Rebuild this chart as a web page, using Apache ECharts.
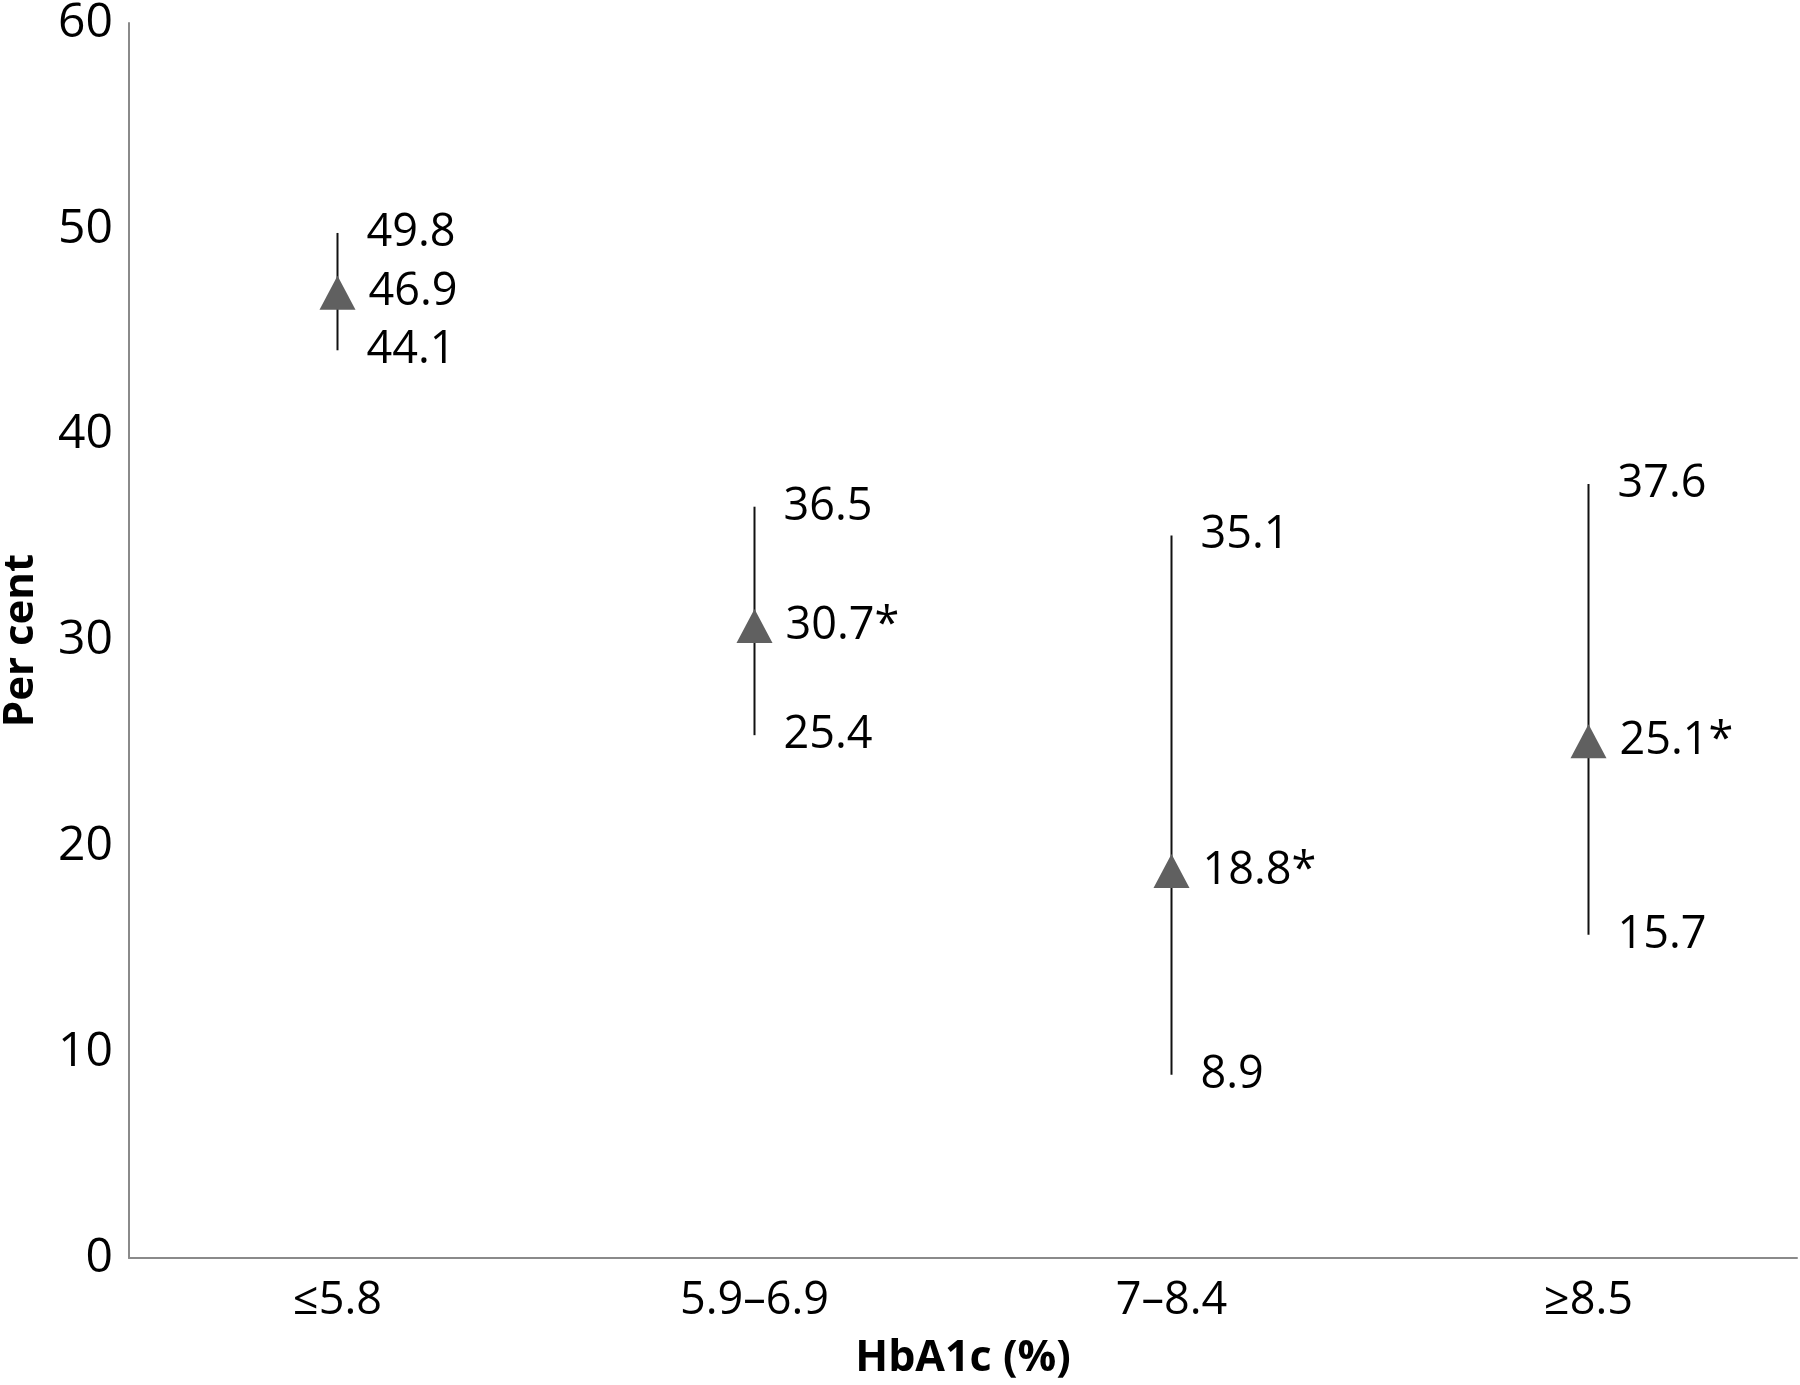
<!DOCTYPE html>
<html>
<head>
<meta charset="utf-8">
<script src="https://cdn.jsdelivr.net/npm/echarts@6/dist/echarts.min.js"></script>
<style>
html,body{margin:0;padding:0;background:#fff;}
#c{width:1800px;height:1385px;}
</style>
</head>
<body>
<div id="c"></div>
<script>
var categories = ['≤5.8', '5.9–6.9', '7–8.4', '≥8.5'];
var pointValues = [46.9, 30.7, 18.8, 25.1];
var upperValues = [49.8, 36.5, 35.1, 37.6];
var lowerValues = [44.1, 25.4, 8.9, 15.7];
var significant = [false, true, true, true];
var yTicks = [0, 10, 20, 30, 40, 50, 60];

var FONT = '"Open Sans", "Noto Sans", sans-serif';
var chart = echarts.init(document.getElementById('c'), null, {renderer: 'canvas'});

var errData = categories.map(function (c, i) { return [i, lowerValues[i], upperValues[i]]; });

var boundLabel = {show: true, position: 'right', distance: 29, color: '#000', opacity: 1,
  fontFamily: FONT, fontSize: 45,
  formatter: function (p) { return p.value.toFixed(1); }};

chart.setOption({
  animation: false,
  backgroundColor: '#ffffff',
  grid: {left: 129, right: 3, top: 23, bottom: 127, containLabel: false, outerBoundsMode: 'none'},
  xAxis: {
    type: 'category',
    data: categories,
    boundaryGap: true,
    axisLine: {show: true, lineStyle: {color: '#8a8a8a', width: 2}},
    axisTick: {show: false},
    splitLine: {show: false},
    axisLabel: {color: '#000', fontFamily: FONT, fontSize: 45, margin: 21},
    name: 'HbA1c (%)',
    nameLocation: 'middle',
    nameGap: 79,
    nameTextStyle: {color: '#000', fontFamily: FONT, fontSize: 43, fontWeight: 'bold'}
  },
  yAxis: {
    type: 'value',
    min: 0, max: 60, interval: 10,
    axisLine: {show: true, lineStyle: {color: '#8a8a8a', width: 2}},
    axisTick: {show: false},
    splitLine: {show: false},
    axisLabel: {color: '#000', fontFamily: FONT, fontSize: 48, margin: 16,
      formatter: function (v) { return yTicks.indexOf(v) >= 0 ? String(v) : ''; }},
    name: 'Per cent',
    nameLocation: 'middle',
    nameGap: 87,
    nameTextStyle: {color: '#000', fontFamily: FONT, fontSize: 42, fontWeight: 'bold'}
  },
  series: [
    {
      type: 'custom',
      data: errData,
      z: 1,
      renderItem: function (params, api) {
        var lo = api.coord([api.value(0), api.value(1)]);
        var hi = api.coord([api.value(0), api.value(2)]);
        return {
          type: 'line',
          shape: {x1: lo[0], y1: lo[1], x2: hi[0], y2: hi[1]},
          style: {stroke: '#111', lineWidth: 2}
        };
      }
    },
    {
      type: 'scatter',
      data: upperValues,
      symbol: 'circle',
      symbolSize: 0,
      itemStyle: {color: '#000'},
      label: boundLabel,
      z: 2
    },
    {
      type: 'scatter',
      data: lowerValues,
      symbol: 'circle',
      symbolSize: 0,
      itemStyle: {color: '#000'},
      label: boundLabel,
      z: 2
    },
    {
      type: 'scatter',
      data: pointValues,
      symbol: 'triangle',
      symbolSize: [36, 34],
      itemStyle: {color: '#606060', opacity: 1},
      label: {show: true, position: 'right', distance: 13, color: '#000', fontFamily: FONT, fontSize: 45,
        formatter: function (p) { return p.value.toFixed(1) + (significant[p.dataIndex] ? '*' : ''); }},
      z: 3
    }
  ]
});
</script>
</body>
</html>
